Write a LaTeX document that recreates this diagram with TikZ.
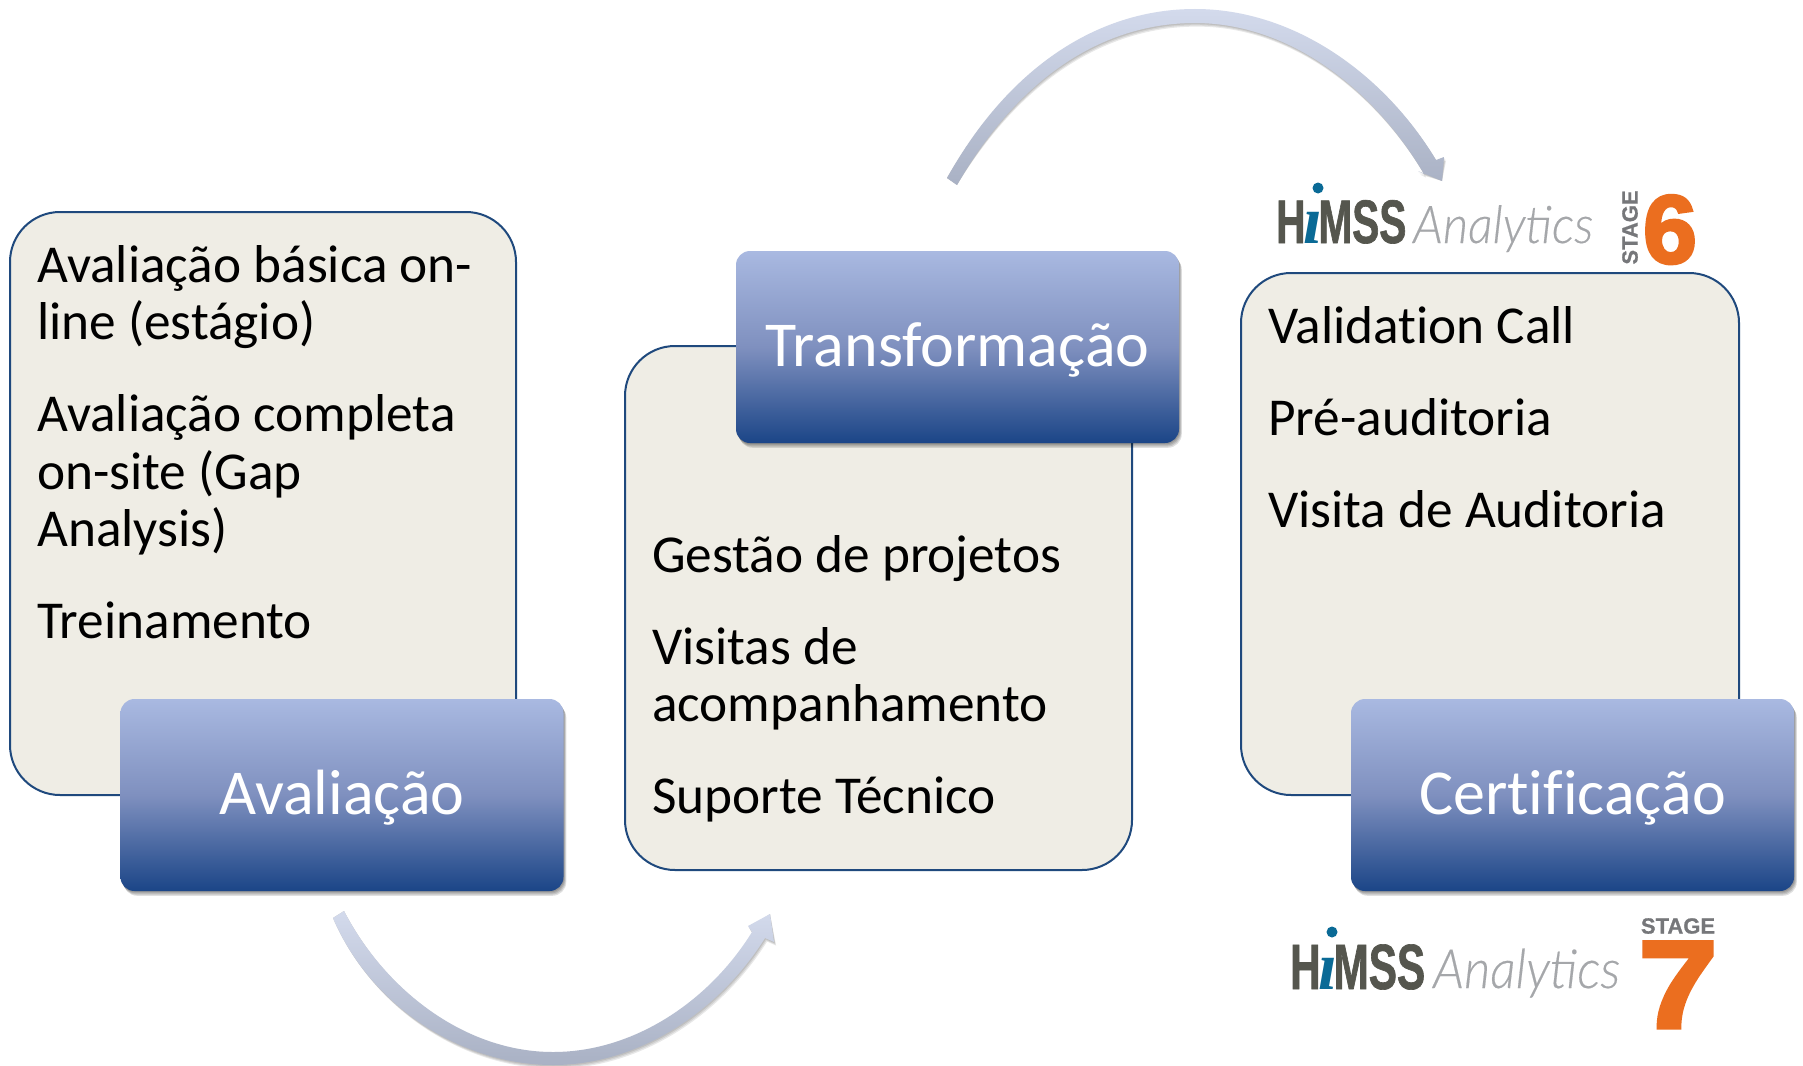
\documentclass[tikz,border=0pt]{standalone}
\usepackage{fontspec}
\usetikzlibrary{shadows}
\setmainfont{Carlito}[Ligatures=NoCommon]
\newfontfamily\himss{Liberation Sans Bold}[FakeStretch=0.66,FakeBold=1]
\newfontfamily\himsi{Liberation Serif Bold Italic}
\newfontfamily\anafont{Lato Light Italic}[FakeStretch=0.94,FakeBold=0.3]
\newfontfamily\stagefont{Liberation Sans Bold}[FakeBold=0.8]
\newfontfamily\numfont{Liberation Sans Bold}[FakeBold=3]
\newfontfamily\sevenfont{Liberation Sans Bold}[FakeStretch=1.15,FakeBold=3.5]
\definecolor{panelfill}{HTML}{EFEDE5}
\definecolor{panelline}{HTML}{1F497D}
\definecolor{hdark}{HTML}{55564E}
\definecolor{hblue}{HTML}{0A6A96}
\definecolor{angray}{HTML}{A5A7AA}
\definecolor{stgray}{HTML}{76777A}
\definecolor{orangeL}{HTML}{EB6E1F}
\definecolor{tbtop}{HTML}{A9B9E1}
\definecolor{tbmid}{HTML}{7F90BF}
\definecolor{tbbot}{HTML}{1B4587}
\definecolor{artop}{HTML}{D3DAEC}
\definecolor{arbot}{HTML}{A9B1C4}
\tikzset{
  panel/.style={draw=panelline,line width=2pt,fill=panelfill,rounded corners=50pt},
  bodytext/.style={anchor=north west,align=left,inner sep=0pt,font=\fontsize{53.3}{57.5}\selectfont,text=black},
  softshadow/.style={drop shadow={shadow xshift=#1*0.7pt,shadow yshift=-#1*1.2pt,opacity=.12,fill=black}},
  titlebox/.style={rounded corners=14pt,inner sep=0pt,text=white,font=\fontsize{64}{70}\selectfont,
    text height=52pt,text depth=14pt,
    minimum width=443pt,minimum height=192pt,top color=tbtop,bottom color=tbbot,middle color=tbmid,
    softshadow=4,softshadow=3,softshadow=2,softshadow=1},
  arrowshade/.style={top color=artop,bottom color=arbot,draw=none},
  arrowshadow/.style={fill=black,opacity=.09,draw=none},
  hmain/.style={anchor=base west,inner sep=0pt,text=hdark,font=\himss\fontsize{64}{64}\selectfont},
  ana/.style={anchor=base west,inner sep=0pt,text=angray,font=\anafont\fontsize{52}{52}\selectfont},
  stagetxt/.style={inner sep=0pt,text=stgray,font=\stagefont\fontsize{22}{22}\selectfont},
  bignum/.style={anchor=base,inner sep=0pt,text=orangeL},
  idot/.style={circle,fill=hblue,inner sep=0pt,minimum size=11pt}
}
\newcommand{\arrowTop}{(atail1) .. controls (1010,65) and (1100,9) .. (1195,9) .. controls (1295,9) and (1385,75) .. (1436,160) -- (1444,157) -- (atip) -- (1418,171) -- (1424,174) .. controls (1375,90) and (1290,23) .. (1195,23) .. controls (1105,23) and (1020,75) .. (atail2) -- cycle}
\newcommand{\arrowBot}{(btail1) .. controls (370,1005) and (460,1065) .. (553,1065) .. controls (640,1065) and (720,1010) .. (765,938) -- (774,942) -- (btip) -- (748,926) -- (752,932) .. controls (710,1000) and (635,1052) .. (553,1052) .. controls (465,1052) and (385,990) .. (btail2) -- cycle}
\newcommand{\himssword}{H\hspace{-2pt}{\color{hblue}\himsi\fontsize{68}{68}\selectfont ı}\hspace{-4pt}MSS}
\begin{document}
\begin{tikzpicture}[x=1pt,y=-1pt]
\useasboundingbox (0,0) rectangle (1803,1065);
\fill[white] (0,0) rectangle (1803,1065);
\coordinate (atail1) at (947,178);
\coordinate (atail2) at (957,185);
\coordinate (atip) at (1442,181);
\coordinate (btail1) at (333,918);
\coordinate (btail2) at (344,911);
\coordinate (btip) at (770,914);
% curved arrows
\foreach \s in {1,2,3}{\fill[arrowshadow,shift={(\s*0.7,\s*1.2)}] \arrowTop;}
\shade[arrowshade] \arrowTop;
\foreach \s in {1,2,3}{\fill[arrowshadow,shift={(\s*0.7,\s*1.2)}] \arrowBot;}
\shade[arrowshade] \arrowBot;
% panels
\draw[panel] (10,212) rectangle (516,795);
\draw[panel] (625,346) rectangle (1132,870);
\draw[panel] (1241,273) rectangle (1739,795);
\node[bodytext] (t1) at (37,245) {Avaliação básica on-\\line (estágio)\\[34.5pt]Avaliação completa\\on-site (Gap\\Analysis)\\[34.5pt]Treinamento};
\node[bodytext] (t2) at (652,535) {Gestão de projetos\\[34.5pt]Visitas de\\acompanhamento\\[34.5pt]Suporte Técnico};
\node[bodytext] (t3) at (1268,306) {Validation Call\\[34.5pt]Pré-auditoria\\[34.5pt]Visita de Auditoria};
% title boxes
\node[titlebox] (av) at (342,795) {Avaliação};
\node[titlebox] (tr) at (957.5,347) {Transformação};
\node[titlebox] (ce) at (1572.5,795) {Certificação};
% logo 6
\node[hmain,font=\himss\fontsize{61.5}{62}\selectfont] (h6) at (1276,243) {\himssword};
\node[idot] (d6) at (1318,188) {};
\node[ana] (a6) at (1413,243) {Analytics};
\node[stagetxt,rotate=90] (s6) at (1630,227.5) {STAGE};
\node[bignum,font=\numfont\fontsize{97}{97}\selectfont] (n6) at (1670,263) {6};
% logo 7
\node[hmain] (h7) at (1290,989) {\himssword};
\node[idot] (d7) at (1332,932) {};
\node[ana,font=\anafont\fontsize{54}{54}\selectfont] (a7) at (1433,988) {Analytics};
\node[stagetxt] (s7) at (1678,926) {STAGE};
\node[bignum,font=\sevenfont\fontsize{124}{124}\selectfont] (n7) at (1678,1027.5) {7};
\end{tikzpicture}
\end{document}
